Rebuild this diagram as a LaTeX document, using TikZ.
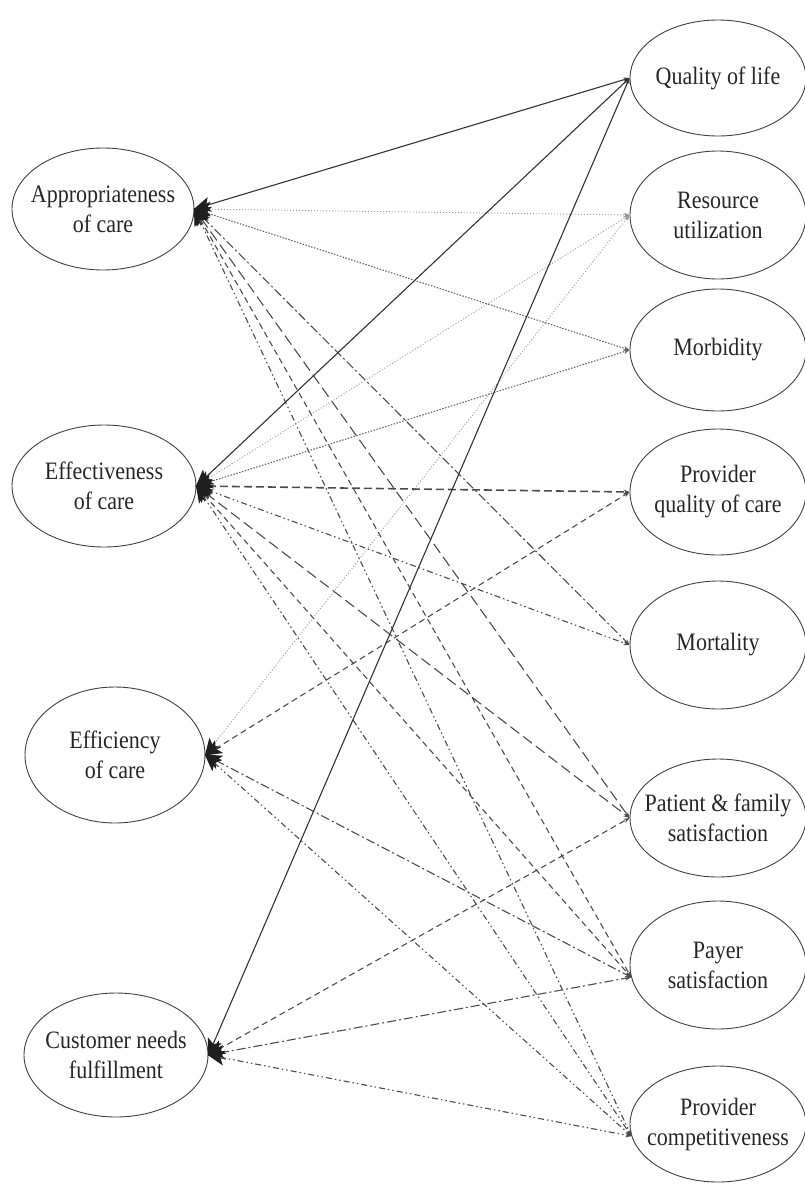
\documentclass[tikz,border=0pt]{standalone}
\usepackage{fontspec}
\setmainfont[FakeStretch=0.88]{Liberation Serif}
\usetikzlibrary{shapes.geometric,arrows.meta}
\begin{document}
\begin{tikzpicture}[x=1pt,y=-1pt,
  oval/.style={ellipse,draw=black!75,line width=0.9pt,inner ysep=0pt,inner xsep=-30pt,align=center,
    font=\fontsize{25}{30}\selectfont,text=black!85},
  link/.style={line width=1.1pt,draw=black!70,
    {Stealth[length=17pt,width=15pt,inset=4pt,fill=black!88,color=black!88,sep=-1pt]}-{Stealth[length=6pt,width=4.5pt,fill=black!80]}},
  solidsty/.style={link,draw=black!80},
  dotsty/.style={link,draw=black!40,line width=0.9pt,dash pattern=on 1pt off 2pt},
  densedot/.style={link,draw=black!60,dash pattern=on 1.5pt off 1.5pt},
  dashsty/.style={link,dash pattern=on 6pt off 4pt},
  boldash/.style={link,line width=1.6pt,dash pattern=on 8pt off 4pt},
  longdash/.style={link,dash pattern=on 11pt off 5pt},
  dashdot/.style={link,dash pattern=on 9pt off 3pt on 2pt off 3pt},
  dashdotdot/.style={link,dash pattern=on 6pt off 3pt on 1.5pt off 3pt on 1.5pt off 3pt}]
\useasboundingbox (0,0) rectangle (804,1186);
% left nodes
\node[oval,minimum width=182,minimum height=122] (A) at (103,209) {Appropriateness\\of care};
\node[oval,minimum width=184,minimum height=122] (E) at (104,486) {Effectiveness\\of care};
\node[oval,minimum width=180,minimum height=136] (F) at (115,755) {Efficiency\\of care};
\node[oval,minimum width=184,minimum height=124] (C) at (116,1055) {Customer needs\\fulfillment};
% right nodes
\node[oval,minimum width=176,minimum height=116] (Q) at (718,78) {Quality of life};
\node[oval,minimum width=176,minimum height=128] (R) at (718,215) {Resource\\utilization};
\node[oval,minimum width=176,minimum height=122] (M) at (718,350) {Morbidity};
\node[oval,minimum width=176,minimum height=126] (P) at (718,492) {Provider\\quality of care};
\node[oval,minimum width=176,minimum height=128] (Mo) at (718,645) {Mortality};
\node[oval,minimum width=176,minimum height=118] (S) at (718,818) {Patient \& family\\satisfaction};
\node[oval,minimum width=176,minimum height=128] (Pa) at (718,965) {Payer\\satisfaction};
\node[oval,minimum width=176,minimum height=116] (PC) at (718,1124) {Provider\\competitiveness};
% Appropriateness
\draw[solidsty] (A.east) -- (Q.west);
\draw[dotsty] (A.east) -- (R.west);
\draw[densedot] (A.east) -- (M.west);
\draw[dashdot] (A.east) -- (Mo.west);
\draw[longdash] (A.east) -- (S.west);
\draw[dashsty] (A.east) -- (Pa.188);
\draw[dashdotdot] (A.east) -- (PC.188);
% Effectiveness
\draw[solidsty] (E.east) -- (Q.west);
\draw[dotsty] (E.east) -- (R.west);
\draw[densedot] (E.east) -- (M.west);
\draw[boldash] (E.east) -- (P.west);
\draw[dashdotdot] (E.east) -- (Mo.west);
\draw[longdash] (E.east) -- (S.west);
\draw[dashsty] (E.east) -- (Pa.188);
\draw[dashdotdot] (E.east) -- (PC.188);
% Efficiency
\draw[dotsty] (F.east) -- (R.west);
\draw[dashsty] (F.east) -- (P.west);
\draw[dashdot] (F.east) -- (Pa.188);
\draw[dashdotdot] (F.east) -- (PC.188);
% Customer needs
\draw[solidsty] (C.east) -- (Q.west);
\draw[dashsty] (C.east) -- (S.west);
\draw[dashdot] (C.east) -- (Pa.188);
\draw[dashdotdot] (C.east) -- (PC.188);
\end{tikzpicture}
\end{document}
